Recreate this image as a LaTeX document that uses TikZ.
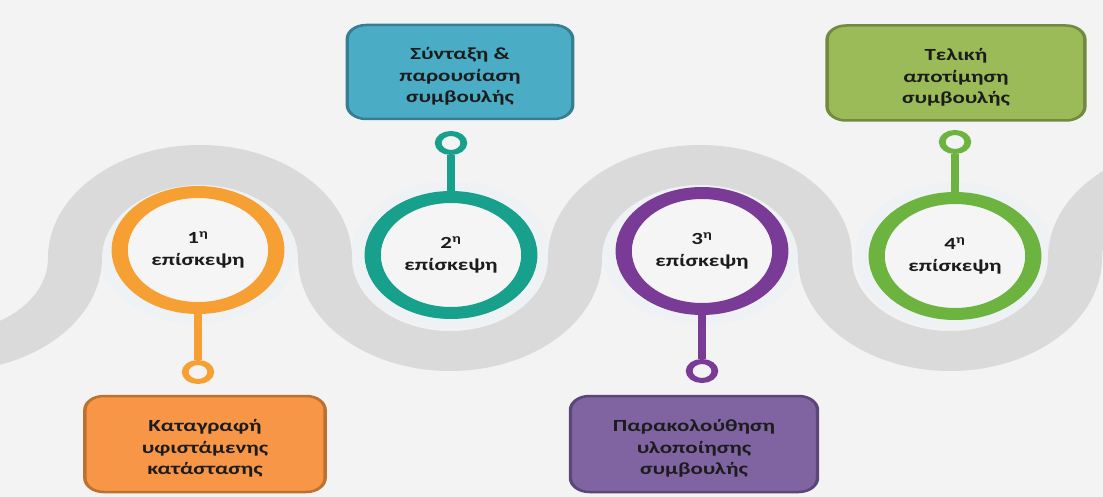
\documentclass[tikz,border=0pt]{standalone}
\usepackage{fontspec}
\setmainfont{Carlito}
\usetikzlibrary{shapes.geometric}
\definecolor{bgc}{HTML}{F3F3F3}
\definecolor{wavec}{HTML}{DADADA}
\definecolor{haloc}{HTML}{EFF2F4}
\definecolor{innerc}{HTML}{F5F5F5}
\definecolor{txt}{HTML}{1C1C1C}
\definecolor{ringO}{HTML}{F6A033}
\definecolor{ringT}{HTML}{17A08B}
\definecolor{ringP}{HTML}{7A3B96}
\definecolor{ringG}{HTML}{6CB33F}
\definecolor{boxO}{HTML}{F79646}
\definecolor{boxOd}{HTML}{BE702F}
\definecolor{boxT}{HTML}{4BACC6}
\definecolor{boxTd}{HTML}{367F93}
\definecolor{boxP}{HTML}{8064A2}
\definecolor{boxPd}{HTML}{5B4677}
\definecolor{boxG}{HTML}{9BBB59}
\definecolor{boxGd}{HTML}{718A40}
\newcommand\lblfont{\bfseries\fontsize{17}{21.5}\selectfont}
\newcommand\lowerstrut{\rule{0pt}{21pt}}
\begin{document}
\begin{tikzpicture}[x=1pt,y=-1pt,
  ringnode/.style={circle, draw=#1, line width=12pt, fill=innerc, minimum size=116pt, inner sep=0pt, align=center, font=\lblfont, text=txt},
  knob/.style={circle, draw=#1, line width=5pt, fill=bgc, minimum size=19pt, inner sep=0pt},
  stem/.style={draw=#1, line width=6pt},
  card/.style 2 args={rectangle, fill=#1, draw=#2, line width=2.5pt, rounded corners=14pt, align=center, font=\lblfont, text=txt, inner sep=0pt},
]
\fill[bgc] (0,0) rectangle (1103,497);
\begin{scope}[transform canvas={xscale=1.35}, x={(0.740741pt,0pt)}]
\clip (0,0) rectangle (1103,497);
\foreach \cx/\cy in {198/250,451/255,702/251,955/256}
  \fill[haloc] (\cx,\cy) circle [radius=74pt];
\draw[wavec, line width=40pt]
  (-175,258) .. controls (-175,309.3) and (-119,351) .. (-50,351)
  .. controls (19,351) and (75,309.3) .. (75,258)
  .. controls (75,206.7) and (131,165) .. (200,165)
  .. controls (269,165) and (325,206.7) .. (325,258)
  .. controls (325,309.3) and (381,351) .. (450,351)
  .. controls (519,351) and (575,309.3) .. (575,258)
  .. controls (575,206.7) and (631,165) .. (700,165)
  .. controls (769,165) and (825,206.7) .. (825,258)
  .. controls (825,309.3) and (881,351) .. (950,351)
  .. controls (1019,351) and (1075,309.3) .. (1075,258)
  .. controls (1075,206.7) and (1131,165) .. (1200,165)
  .. controls (1269,165) and (1325,206.7) .. (1325,258);

\node[ringnode=ringO] (c1) at (198,250) {1\textsuperscript{η}\\επίσκεψη};
\node[ringnode=ringT] (c2) at (451,255) {2\textsuperscript{η}\\επίσκεψη};
\node[ringnode=ringP] (c3) at (702,251) {3\textsuperscript{η}\\επίσκεψη};
\node[ringnode=ringG] (c4) at (955,256) {4\textsuperscript{η}\\επίσκεψη};

\node[knob=ringO] (s1) at (198,372) {};
\node[knob=ringT] (s2) at (451,143) {};
\node[knob=ringP] (s3) at (702,371) {};
\node[knob=ringG] (s4) at (955,142) {};

\draw[stem=ringO] (c1.south) -- (s1.north);
\draw[stem=ringT] (c2.north) -- (s2.south);
\draw[stem=ringP] (c3.south) -- (s3.north);
\draw[stem=ringG] (c4.north) -- (s4.south);

\node[card={boxO}{boxOd}, minimum width=178pt, minimum height=96pt] (b1) at (205,444) {\lowerstrut Καταγραφή\\υφιστάμενης\\κατάστασης};
\node[card={boxT}{boxTd}, minimum width=167pt, minimum height=94pt] (b2) at (460,72) {\lowerstrut Σύνταξη \&\\παρουσίαση\\συμβουλής};
\node[card={boxP}{boxPd}, minimum width=183pt, minimum height=96pt] (b3) at (694,444) {\lowerstrut Παρακολούθηση\\υλοποίησης\\συμβουλής};
\node[card={boxG}{boxGd}, minimum width=191pt, minimum height=95pt] (b4) at (956,73) {\lowerstrut Τελική\\αποτίμηση\\συμβουλής};
\end{scope}
\end{tikzpicture}
\end{document}
